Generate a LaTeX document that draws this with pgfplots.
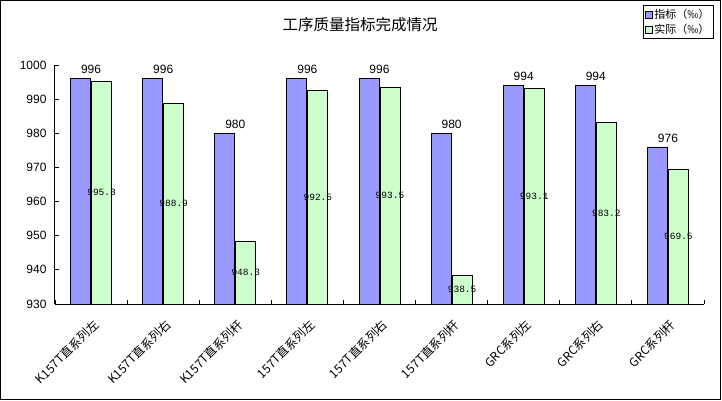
\documentclass[border=0pt]{standalone}
\usepackage{pgfplots}
\pgfplotsset{compat=1.18}
\usepackage{pgfplotstable}
\usepackage{fontspec}
\setmainfont{Liberation Sans}
\newfontfamily\cjk{Noto Sans CJK SC}
\newfontfamily\mono{Liberation Mono}
\definecolor{barblue}{HTML}{9999FF}
\definecolor{bargreen}{HTML}{CCFFCC}

\pgfplotstableread{
x target actual mid
0 996 995.3 962.65
1 996 988.9 959.45
2 980 948.3 939.15
3 996 992.5 961.25
4 996 993.5 961.75
5 980 938.5 934.25
6 994 993.1 961.55
7 994 983.2 956.60
8 976 969.5 949.75
}\data

\begin{document}
\begin{tikzpicture}[x=1bp,y=1bp]
\useasboundingbox (-55,-96) rectangle (667,304);
\fill[white] (-55,-96) rectangle (667,304);
\draw[line width=1bp] (-54.5,-95) rectangle (665.5,303.5);
\node[font=\cjk\fontsize{15.5bp}{18bp}\selectfont] at (305,279) {工序质量指标完成情况};
\begin{axis}[
  scale only axis, width=649bp, height=239bp,
  xmin=-0.5, xmax=8.5, ymin=930, ymax=1000,
  axis lines=left, axis line style={-, line width=1bp, black},
  tick align=inside,
  major tick length=4bp,
  tick style={black, line width=0.8bp},
  ytick={930,940,...,1000},
  /pgf/number format/assume math mode=true,
  /pgf/number format/1000 sep={},
  yticklabel style={font=\fontsize{12bp}{14bp}\selectfont, xshift=-5bp},
  xtick={-0.5,0.5,...,8.5},
  xticklabels={},
  extra x ticks={0,1,2,3,4,5,6,7,8},
  extra x tick labels={K157T直系列左,K157T直系列右,K157T直系列杆,157T直系列左,157T直系列右,157T直系列杆,GRC系列左,GRC系列右,GRC系列杆},
  extra x tick style={major tick length=0pt, tick style={draw=none}},
  xticklabel style={rotate=45, anchor=east, font=\cjk\fontsize{12bp}{14bp}\selectfont, xshift=-6bp, yshift=-17bp},
  legend style={at={(0.906,1.251)}, anchor=north west, draw=black, line width=0.8bp,
    font=\cjk\fontsize{11bp}{13bp}\selectfont, inner sep=1.5bp, row sep=0.5bp,
    legend cell align=left},
]
\addplot[ybar, bar width=20bp, bar shift=-10.5bp, fill=barblue, draw=black, line width=0.8bp,
  legend image code/.code={\draw[fill=barblue,draw=black,line width=0.6bp] (0bp,-3.5bp) rectangle (7bp,3.5bp);},
  nodes near coords, point meta=explicit symbolic,
  every node near coord/.append style={font=\fontsize{12bp}{14bp}\selectfont, yshift=1bp, black}]
  table[x=x, y=target, meta=target]{\data};
\addlegendentry{指标（‰）}
\addplot[ybar, bar width=20bp, bar shift=10.5bp, fill=bargreen, draw=black, line width=0.8bp,
  legend image code/.code={\draw[fill=bargreen,draw=black,line width=0.6bp] (0bp,-3.5bp) rectangle (7bp,3.5bp);}]
  table[x=x, y=actual]{\data};
\addlegendentry{实际（‰）}
\addplot[draw=none, mark=none, forget plot,
  nodes near coords, point meta=explicit symbolic,
  every node near coord/.append style={anchor=center, xshift=10.5bp, font=\mono\fontsize{9.5bp}{11bp}\selectfont, black}]
  table[x=x, y=mid, meta=actual]{\data};
\end{axis}
\end{tikzpicture}
\end{document}
